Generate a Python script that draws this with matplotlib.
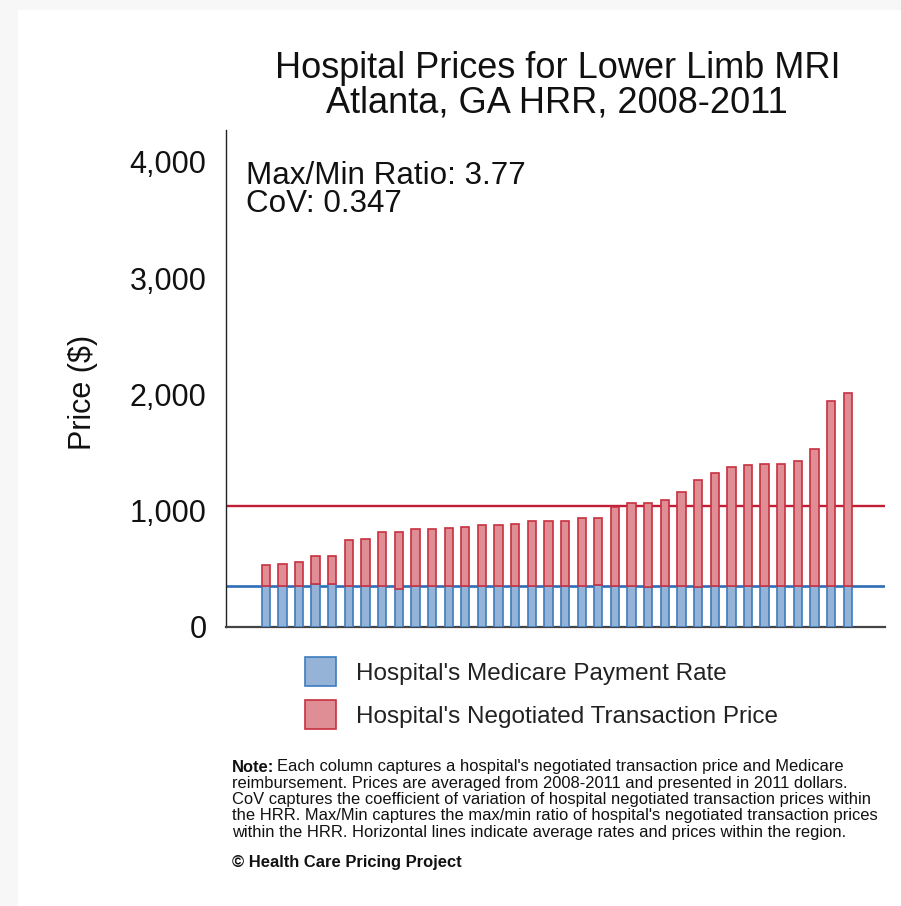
import matplotlib
matplotlib.use("Agg")
import matplotlib.pyplot as plt
from matplotlib.patches import Rectangle
from matplotlib.ticker import FuncFormatter

# ---------------- data ----------------
negotiated = [533, 544, 555, 607, 607, 747, 761, 813, 813, 839, 839, 850,
              864, 876, 876, 890, 913, 913, 913, 941, 941, 1036, 1067, 1067,
              1096, 1159, 1265, 1328, 1379, 1391, 1405, 1405, 1431, 1534,
              1946, 2010]
medicare = [356, 356, 356, 366, 370, 356, 356, 356, 328, 356, 356, 356,
            356, 356, 356, 356, 356, 356, 356, 356, 364, 356, 356, 343,
            356, 356, 343, 356, 356, 356, 356, 356, 356, 356, 356, 356]
negotiated_avg = 1039
medicare_avg = 356
y_ticks = [0, 1000, 2000, 3000, 4000]
title_lines = ["Hospital Prices for Lower Limb MRI", "Atlanta, GA HRR, 2008-2011"]
stats_lines = ["Max/Min Ratio: 3.77", "CoV: 0.347"]
legend_labels = ["Hospital's Medicare Payment Rate",
                 "Hospital's Negotiated Transaction Price"]
note_lines = [
    "Each column captures a hospital's negotiated transaction price and Medicare",
    "reimbursement. Prices are averaged from 2008-2011 and presented in 2011 dollars.",
    "CoV captures the coefficient of variation of hospital negotiated transaction prices within",
    "the HRR. Max/Min captures the max/min ratio of hospital's negotiated transaction prices",
    "within the HRR. Horizontal lines indicate average rates and prices within the region.",
]
copyright_text = "\u00a9 Health Care Pricing Project"

# ---------------- style ----------------
W, H = 901, 906
FONT = "Liberation Sans"
NOTE_FONT = "Liberation Sans"
BLUE_FILL, BLUE_EDGE, BLUE_LINE = "#95b3d7", "#3d7bc0", "#2d6db5"
RED_FILL, RED_EDGE, RED_LINE = "#e08e96", "#c8303f", "#c11d35"

plt.rcParams["font.family"] = FONT

def fx(x):
    return x / W

def fy(y):
    return 1 - y / H

fig = plt.figure(figsize=(W / 100, H / 100), dpi=100, facecolor="white")

# light gray frame strips
fig.patches.append(Rectangle((0, 0), fx(18), 1, transform=fig.transFigure,
                             facecolor="#f7f7f7", edgecolor="none", zorder=-10))
fig.patches.append(Rectangle((0, fy(10)), 1, 1 - fy(10), transform=fig.transFigure,
                             facecolor="#f7f7f7", edgecolor="none", zorder=-10))

ax_l, ax_r, ax_t, ax_b = 226, 885, 130, 627
ax = fig.add_axes([fx(ax_l), fy(ax_b), fx(ax_r) - fx(ax_l), fy(ax_t) - fy(ax_b)])
ax.set_facecolor("none")

x = list(range(len(negotiated)))
upper = [n - m for n, m in zip(negotiated, medicare)]
b_med = ax.bar(x, medicare, width=0.5, color=BLUE_FILL, edgecolor=BLUE_EDGE,
               linewidth=1.2, zorder=3)
b_neg = ax.bar(x, upper, bottom=medicare, width=0.5, color=RED_FILL,
               edgecolor=RED_EDGE, linewidth=1.2, zorder=3)

ax.axhline(negotiated_avg, color=RED_LINE, linewidth=1.7, zorder=2)
ax.axhline(medicare_avg, color=BLUE_LINE, linewidth=1.9, zorder=2)

ax.set_xlim(-2.39, 37.24)
ax.set_ylim(0, 4275)
ax.set_yticks(y_ticks)
ax.yaxis.set_major_formatter(FuncFormatter(lambda v, p: f"{int(v):,}"))
ax.tick_params(axis="y", length=0, pad=14, labelsize=22, labelcolor="#111111")
ax.set_xticks([])
for s in ("top", "right"):
    ax.spines[s].set_visible(False)
ax.spines["left"].set_color("#222222")
ax.spines["left"].set_linewidth(1.0)
ax.spines["bottom"].set_color("#444444")
ax.spines["bottom"].set_linewidth(1.6)

# y label
fig.text(fx(83), fy(392), "Price ($)", rotation=90, ha="center", va="center",
         fontsize=22, color="#111111")

# title
fig.text(fx(558), fy(68), title_lines[0], ha="center", va="center",
         fontsize=26, color="#111111")
fig.text(fx(557), fy(103), title_lines[1], ha="center", va="center",
         fontsize=26, color="#111111")

# stats
fig.text(fx(246), fy(176), stats_lines[0], ha="left", va="center",
         fontsize=22.6, color="#111111")
fig.text(fx(246), fy(204), stats_lines[1], ha="left", va="center",
         fontsize=22.6, color="#111111")

# legend
leg = fig.legend([b_med, b_neg], legend_labels, loc="upper left",
                 bbox_to_anchor=(fx(305), fy(657)), bbox_transform=fig.transFigure,
                 frameon=False, fontsize=17.5, handlelength=1.28, handleheight=1.49,
                 handletextpad=0.82, labelspacing=0.55, borderpad=0,
                 borderaxespad=0)
for t in leg.get_texts():
    t.set_color("#222222")

# note block
renderer = fig.canvas.get_renderer()
target_w = 868 - 232
probe = fig.text(0, 0, note_lines[2], fontsize=10, family=NOTE_FONT)
w10 = probe.get_window_extent(renderer).width
probe.remove()
note_fs = 10 * target_w / w10

note_x = 232
note_y0 = 767
pitch = 16.25
bold = fig.text(fx(note_x), fy(note_y0), "Note:", ha="left", va="center",
                fontsize=note_fs, family=NOTE_FONT, weight="bold", color="#111111")
bw = bold.get_window_extent(renderer).width
fig.text(fx(note_x + bw + 3), fy(note_y0), note_lines[0], ha="left", va="center",
         fontsize=note_fs, family=NOTE_FONT, color="#111111")
for i, line in enumerate(note_lines[1:], start=1):
    fig.text(fx(note_x), fy(note_y0 + i * pitch), line, ha="left", va="center",
             fontsize=note_fs, family=NOTE_FONT, color="#111111")
fig.text(fx(note_x), fy(863), copyright_text, ha="left", va="center",
         fontsize=note_fs, family=NOTE_FONT, weight="bold", color="#111111")

fig.savefig("out.png", dpi=100, facecolor="white")
